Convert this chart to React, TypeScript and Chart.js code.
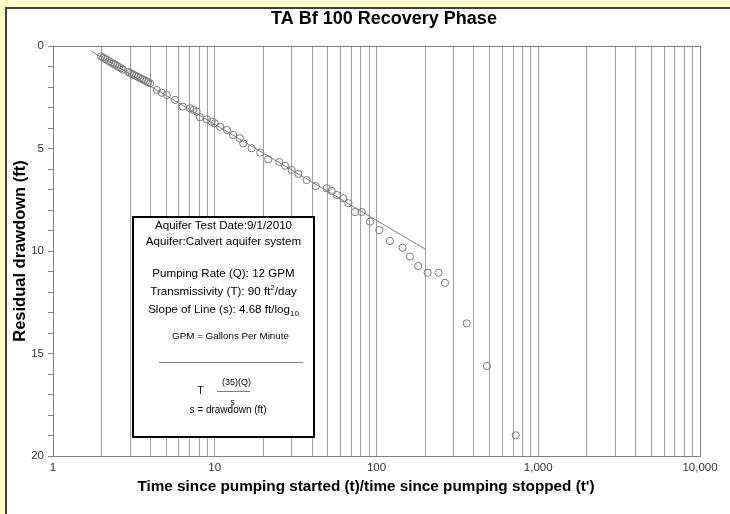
import React, { useEffect, useRef } from "react";
import { Chart, registerables } from "chart.js";

Chart.register(...registerables);

const FONT = "'Liberation Sans', Arial, Helvetica, sans-serif";

// t/t' ratio (x) and residual drawdown in ft (y)
const timeRatio = [
  1.98, 2.04, 2.1, 2.16, 2.22, 2.28, 2.35, 2.42, 2.49, 2.56, 2.63, 2.71,
  2.91, 2.99, 3.08, 3.17, 3.26, 3.35, 3.45, 3.55, 3.65, 3.76, 3.87, 3.98,
  4.38, 4.7, 5.05, 5.68, 6.34, 7.03, 7.37, 7.73, 8.11, 8.92, 9.57, 10.0,
  10.8, 11.9, 13.0, 14.3, 15.0, 16.9, 19.1, 21.4, 25.1, 27.2, 29.9, 32.9,
  37.0, 42.1, 49.2, 52.8, 56.8, 62.3, 67.0, 73.6, 81.0, 91.2, 104, 121,
  145, 161, 181, 207, 242, 265, 361, 482, 725,
];
const residualDrawdown = [
  0.51, 0.57, 0.63, 0.68, 0.74, 0.8, 0.86, 0.91, 0.97, 1.03, 1.09, 1.15,
  1.25, 1.31, 1.36, 1.41, 1.46, 1.51, 1.56, 1.61, 1.66, 1.71, 1.76, 1.82,
  2.15, 2.28, 2.39, 2.63, 2.96, 3.04, 3.12, 3.2, 3.48, 3.58, 3.69, 3.77,
  3.94, 4.1, 4.34, 4.5, 4.75, 4.99, 5.2, 5.53, 5.66, 5.84, 6.05, 6.24,
  6.54, 6.83, 6.94, 7.07, 7.27, 7.43, 7.67, 8.1, 8.1, 8.57, 8.98, 9.51,
  9.84, 10.27, 10.73, 11.06, 11.06, 11.55, 13.53, 15.61, 18.99,
];

// fitted straight line (slope 4.68 ft per log cycle)
const fitLineX = [1.71, 201.8];
const fitLineY = [0.23, 9.93];

const xLabelValues = [1, 10, 100, 1000, 10000];
const xMultipliers = [1, 2, 3, 4, 5, 6, 7, 8, 9];
const xDecades = [1, 10, 100, 1000];
const yMin = 0;
const yMax = 20;
const yLabelStep = 5;

const chartTitle = "TA Bf 100 Recovery Phase";
const xAxisTitle = "Time since pumping started (t)/time since pumping stopped (t')";
const yAxisTitle = "Residual drawdown (ft)";

const gridValues: number[] = [];
xDecades.forEach((d) => xMultipliers.forEach((m) => gridValues.push(m * d)));
gridValues.push(10000);

const framePlugin = {
  id: "frameAndTitles",
  afterDraw(chart: any) {
    const { ctx, chartArea } = chart;
    ctx.save();
    ctx.strokeStyle = "#808080";
    ctx.lineWidth = 1;
    ctx.strokeRect(
      Math.round(chartArea.left) + 0.5,
      Math.round(chartArea.top) + 0.5,
      Math.round(chartArea.right - chartArea.left),
      Math.round(chartArea.bottom - chartArea.top)
    );
    ctx.fillStyle = "#000";
    ctx.textAlign = "center";
    ctx.textBaseline = "middle";
    ctx.font = `bold 18px ${FONT}`;
    ctx.fillText(chartTitle, 384, 19);
    ctx.font = `bold 15.3px ${FONT}`;
    ctx.fillText(xAxisTitle, 366, 487);
    ctx.restore();
  },
};

function TextBox() {
  const boxLeft = 132;
  const boxTop = 216;
  const inner = (y: number) => y - boxTop - 2;
  const line = (y: number, content: React.ReactNode, size: number, dx = 0) => (
    <div
      style={{
        position: "absolute",
        left: dx,
        right: -dx,
        top: inner(y) - 8,
        height: 16,
        lineHeight: "16px",
        fontSize: size,
        textAlign: "center",
        whiteSpace: "nowrap",
      }}
    >
      {content}
    </div>
  );
  return (
    <div
      style={{
        position: "absolute",
        left: boxLeft,
        top: boxTop,
        width: 183,
        height: 222,
        boxSizing: "border-box",
        border: "2px solid #000",
        background: "#fff",
        fontFamily: FONT,
        color: "#000",
      }}
    >
      {line(225, "Aquifer Test Date:9/1/2010", 11.6)}
      {line(241, "Aquifer:Calvert aquifer system", 11.6)}
      {line(273, "Pumping Rate (Q): 12 GPM", 11.6)}
      {line(
        291,
        <span>
          Transmissivity (T): 90 ft<sup style={{ fontSize: 8, lineHeight: 0 }}>2</sup>/day
        </span>,
        11.6
      )}
      {line(
        309,
        <span>
          Slope of Line (s): 4.68 ft/log<sub style={{ fontSize: 8, lineHeight: 0 }}>10</sub>
        </span>,
        11.6
      )}
      {line(336, "GPM = Gallons Per Minute", 9.8, 7)}
      <div
        style={{
          position: "absolute",
          left: 159 - boxLeft - 2,
          width: 144,
          top: inner(362),
          borderTop: "1px solid #808080",
        }}
      />
      {line(382, "(35)(Q)", 9, 13)}
      {line(391, "T", 10, -23)}
      <div
        style={{
          position: "absolute",
          left: 217 - boxLeft - 2,
          width: 33,
          top: inner(391),
          borderTop: "1px solid #808080",
        }}
      />
      {line(402, "s", 9, 9)}
      {line(410, "s = drawdown (ft)", 10, 4.5)}
    </div>
  );
}

export default function App() {
  const canvasRef = useRef<HTMLCanvasElement | null>(null);

  useEffect(() => {
    if (!canvasRef.current) return;
    const chart = new Chart(canvasRef.current, {
      type: "scatter",
      data: {
        datasets: [
          {
            label: "Observed",
            data: timeRatio.map((x, i) => ({ x, y: residualDrawdown[i] })),
            showLine: false,
            pointStyle: "circle",
            pointRadius: 3.6,
            pointBorderWidth: 1,
            pointBorderColor: "#7a7a7a",
            pointBackgroundColor: "rgba(0,0,0,0)",
          },
          {
            label: "Fit",
            data: fitLineX.map((x, i) => ({ x, y: fitLineY[i] })),
            showLine: true,
            borderColor: "#808080",
            borderWidth: 1,
            pointRadius: 0,
          },
        ],
      },
      options: {
        animation: false,
        responsive: false,
        events: [],
        layout: { padding: { left: 0, top: 46, right: 30, bottom: 0 } },
        plugins: {
          legend: { display: false },
          tooltip: { enabled: false },
          title: { display: false },
        },
        scales: {
          x: {
            type: "logarithmic",
            min: 1,
            max: 10000,
            afterBuildTicks: (s: any) => {
              s.ticks = gridValues.map((v) => ({ value: v }));
            },
            afterFit: (s: any) => {
              s.height = 58;
            },
            ticks: {
              autoSkip: false,
              maxRotation: 0,
              padding: 5,
              color: "#333",
              font: { family: FONT, size: 11.5 },
              callback: (v: any) =>
                xLabelValues.includes(Number(v)) ? Number(v).toLocaleString("en-US") : "",
            },
            grid: { color: "#a0a0a0", lineWidth: 1, drawTicks: false },
            border: { color: "#808080" },
          },
          y: {
            type: "linear",
            reverse: true,
            min: yMin,
            max: yMax,
            afterFit: (s: any) => {
              s.width = 53;
            },
            ticks: {
              stepSize: 1,
              autoSkip: false,
              padding: 4,
              color: "#333",
              font: { family: FONT, size: 11.5 },
              callback: (v: any) => (Number(v) % yLabelStep === 0 ? String(v) : ""),
            },
            grid: {
              drawOnChartArea: false,
              drawTicks: true,
              tickLength: 5,
              color: "#808080",
            },
            border: { color: "#808080" },
            title: {
              display: true,
              text: yAxisTitle,
              color: "#000",
              font: { family: FONT, size: 16.5, weight: "bold" },
              padding: { top: 11, bottom: 0 },
            },
          },
        },
      },
      plugins: [framePlugin],
    } as any);
    return () => chart.destroy();
  }, []);

  return (
    <div
      style={{
        position: "fixed",
        left: 0,
        top: 0,
        width: 730,
        height: 514,
        background: "#FFFFCC",
        overflow: "hidden",
        fontFamily: FONT,
      }}
    >
      <div
        style={{
          position: "absolute",
          left: 5,
          top: 7,
          width: 740,
          height: 520,
          background: "#fff",
          borderLeft: "2px solid #404040",
          borderTop: "2px solid #404040",
        }}
      />
      <canvas
        ref={canvasRef}
        width={730}
        height={514}
        style={{ position: "absolute", left: 0, top: 0, width: 730, height: 514 }}
      />
      <TextBox />
    </div>
  );
}
